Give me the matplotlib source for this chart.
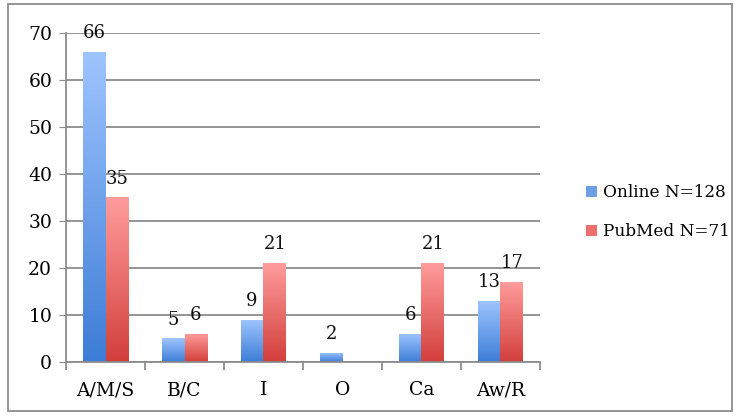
import numpy as np
import matplotlib
matplotlib.use("Agg")
from matplotlib import pyplot as plt
from matplotlib.colors import LinearSegmentedColormap
from matplotlib.patches import Rectangle

categories = ["A/M/S", "B/C", "I", "O", "Ca", "Aw/R"]
online = [66, 5, 9, 2, 6, 13]
pubmed = [35, 6, 21, 0, 21, 17]
series_names = ["Online N=128", "PubMed N=71"]

plt.rcParams['font.family'] = ['DejaVu Serif']
grey = '#8c8c8c'

fig = plt.figure(figsize=(7.37, 4.16), dpi=100, facecolor='white')
ax = fig.add_axes([0.0896, 0.13, 0.643, 0.791])

# vertical gradients: light at the top, darker at the bottom
blue_cmap = LinearSegmentedColormap.from_list('b', ['#3d7dd6', '#9fc5ff'])
red_cmap = LinearSegmentedColormap.from_list('r', ['#d23f3b', '#ff9d9c'])

x = np.arange(len(categories))
w = 0.29

def gradient_bars(xs, vals, cmap, labels=True):
    bars = ax.bar(xs, vals, w, color='none', edgecolor='none', zorder=3)
    for b, v in zip(bars, vals):
        if v <= 0:
            continue
        grad = np.linspace(0, 1, 256).reshape(-1, 1)
        im = ax.imshow(grad, cmap=cmap, aspect='auto', origin='lower',
                       extent=(b.get_x(), b.get_x() + b.get_width(), 0, v),
                       zorder=3)
        im.set_clip_path(b)
        if labels:
            ax.annotate(str(v), (b.get_x() + b.get_width() / 2, v),
                        xytext=(0, 7), textcoords='offset points',
                        ha='center', va='bottom', fontsize=13,
                        color='#111111', zorder=5, annotation_clip=False)
    return bars

gradient_bars(x - w / 2, online, blue_cmap)
gradient_bars(x + w / 2, pubmed, red_cmap)

ax.set_xlim(-0.5, len(categories) - 0.5)
ax.set_ylim(0, 70)
ax.set_yticks(range(0, 71, 10))
ax.set_xticks(x)
ax.set_xticklabels(categories, fontsize=13.5)
ax.tick_params(axis='y', labelsize=13.5, length=5, color=grey, pad=5)
ax.tick_params(axis='x', length=0, pad=14)
ax.set_xticks(np.arange(-0.5, len(categories), 1), minor=True)
ax.tick_params(axis='x', which='minor', length=6, color=grey, width=1.3)

ax.grid(axis='y', color=grey, linewidth=1.3, zorder=0)
ax.set_axisbelow(True)
for s in ['top', 'right']:
    ax.spines[s].set_visible(False)
ax.spines['left'].set_color(grey)
ax.spines['bottom'].set_color(grey)
ax.spines['left'].set_linewidth(1.3)
ax.spines['bottom'].set_linewidth(1.3)
ax.spines['bottom'].set_zorder(4)

# legend squares
handles = [Rectangle((0, 0), 1, 1, facecolor='#6d9fe6', edgecolor='none'),
           Rectangle((0, 0), 1, 1, facecolor='#ec6f6c', edgecolor='none')]
fig.legend(handles, series_names, loc='center left',
           bbox_to_anchor=(0.775, 0.49), frameon=False, fontsize=12.2,
           handlelength=0.6, handleheight=0.6, handletextpad=0.4,
           labelspacing=1.3)

# outer chart border
fig.patches.append(Rectangle((0.011, 0.012), 0.982, 0.978,
                             transform=fig.transFigure, fill=False,
                             edgecolor=grey, linewidth=1.3))

fig.savefig('out.png', dpi=100)
